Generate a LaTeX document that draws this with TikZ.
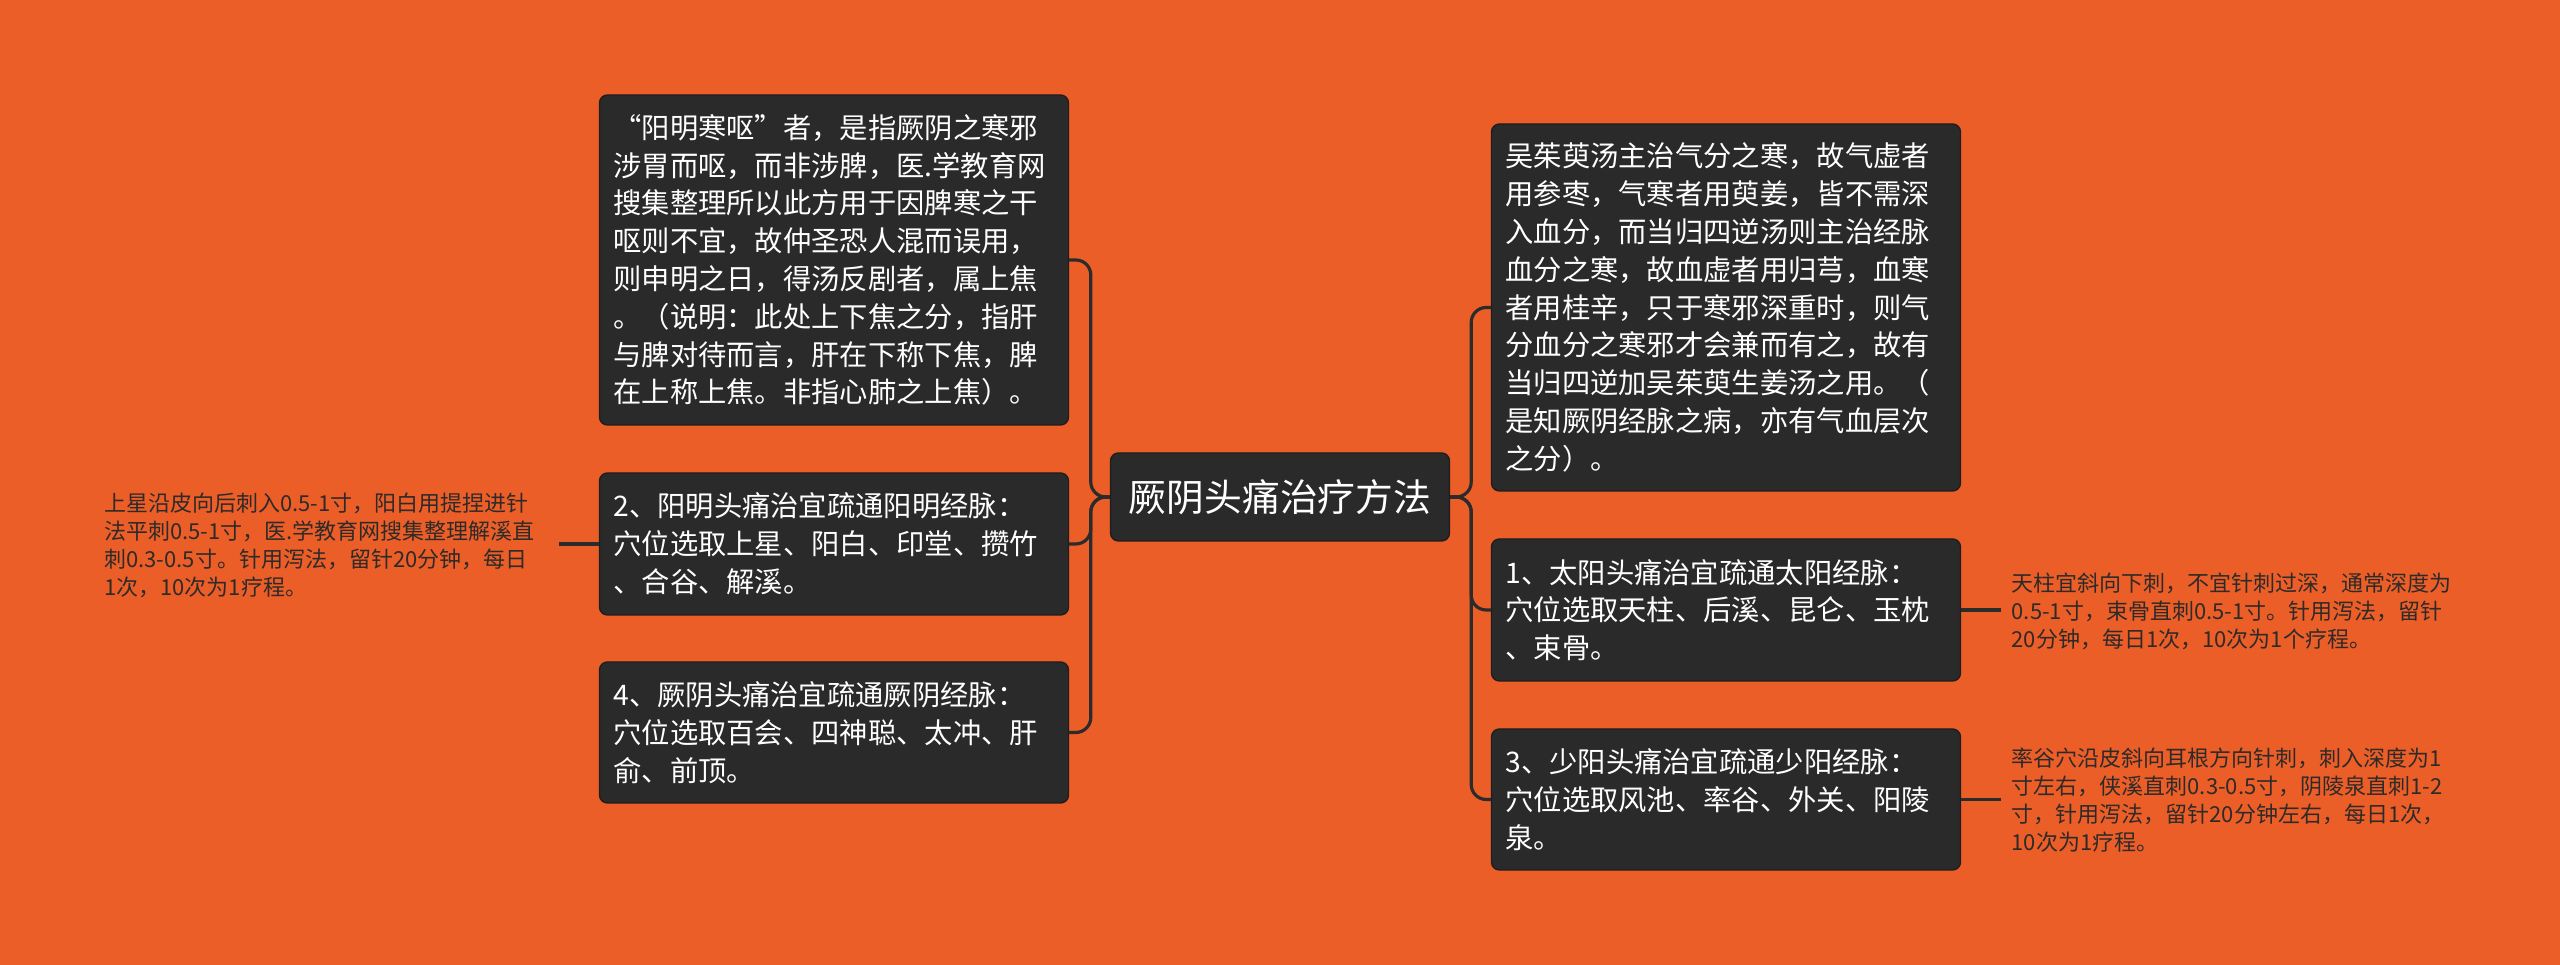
\documentclass[tikz,border=0pt]{standalone}
\usepackage{fontspec}
\usepackage{xcolor}
\usepackage{tikz}
\newfontfamily\cjk{Noto Sans CJK SC}
\definecolor{MMOrange}{HTML}{EB5E28}
\definecolor{MMDark}{HTML}{2A2A2A}
\definecolor{MMEdge}{HTML}{1E1E1E}
\definecolor{MMLine}{HTML}{2B2B2B}
\definecolor{MMLeaf}{HTML}{2E2A28}

\begin{document}
\begin{tikzpicture}[x=1cm,y=1cm,
  topicbox/.style={fill=MMDark,draw=MMEdge,line width=.4pt,rounded corners=0.08cm,text=white,
    font=\cjk\fontsize{8.05pt}{10.75pt}\selectfont,align=left,text width=4.41cm,
    inner xsep=0.14cm,inner ysep=0pt,minimum width=4.69cm},
  rootbox/.style={fill=MMDark,draw=MMEdge,line width=.4pt,rounded corners=0.08cm,text=white,
    font=\cjk\fontsize{10.75pt}{13pt}\selectfont,minimum width=3.39cm,minimum height=0.88cm,inner sep=0pt},
  leafnote/.style={text=MMLeaf,font=\cjk\fontsize{6.26pt}{7.97pt}\selectfont,align=left,
    inner xsep=0.1cm,inner ysep=0pt},
  link/.style={MMLine,line width=0.9pt,rounded corners=0.15cm}]
\path[use as bounding box] (0,0) rectangle (25.60,9.65);
\fill[MMOrange] (0,0) rectangle (25.60,9.65);
% centre topic
\node[rootbox] (root) at (12.80,4.68) {厥阴头痛治疗方法};
% left branch
\node[topicbox,minimum height=3.30cm] (ouNote) at (8.34,7.05) {“阳明寒呕”者，是指厥阴之寒邪\\涉胃而呕，而非涉脾，医.学教育网\\搜集整理所以此方用于因脾寒之干\\呕则不宜，故仲圣恐人混而误用，\\则申明之日，得汤反剧者，属上焦\\。（说明：此处上下焦之分，指肝\\与脾对待而言，肝在下称下焦，脾\\在上称上焦。非指心肺之上焦）。};
\node[topicbox,minimum height=1.42cm] (yangming) at (8.34,4.21) {2、阳明头痛治宜疏通阳明经脉：\\穴位选取上星、阳白、印堂、攒竹\\、合谷、解溪。};
\node[topicbox,minimum height=1.41cm] (jueyin) at (8.34,2.325) {4、厥阴头痛治宜疏通厥阴经脉：\\穴位选取百会、四神聪、太冲、肝\\俞、前顶。};
\node[leafnote,text width=4.44cm,anchor=east] (leafYangming) at (5.59,4.195) {上星沿皮向后刺入0.5-1寸，阳白用提捏进针\\法平刺0.5-1寸，医.学教育网搜集整理解溪直\\刺0.3-0.5寸。针用泻法，留针20分钟，每日\\1次，10次为1疗程。};
% right branch
\node[topicbox,minimum height=3.67cm] (wuzhuyu) at (17.26,6.575) {吴茱萸汤主治气分之寒，故气虚者\\用参枣，气寒者用萸姜，皆不需深\\入血分，而当归四逆汤则主治经脉\\血分之寒，故血虚者用归芎，血寒\\者用桂辛，只于寒邪深重时，则气\\分血分之寒邪才会兼而有之，故有\\当归四逆加吴茱萸生姜汤之用。（\\是知厥阴经脉之病，亦有气血层次\\之分）。};
\node[topicbox,minimum height=1.42cm] (taiyang) at (17.26,3.55) {1、太阳头痛治宜疏通太阳经脉：\\穴位选取天柱、后溪、昆仑、玉枕\\、束骨。};
\node[topicbox,minimum height=1.41cm] (shaoyang) at (17.26,1.655) {3、少阳头痛治宜疏通少阳经脉：\\穴位选取风池、率谷、外关、阳陵\\泉。};
\node[leafnote,text width=4.6cm,anchor=west] (leafTaiyang) at (20.01,3.54) {天柱宜斜向下刺，不宜针刺过深，通常深度为\\0.5-1寸，束骨直刺0.5-1寸。针用泻法，留针\\20分钟，每日1次，10次为1个疗程。};
\node[leafnote,text width=4.6cm,anchor=west] (leafShaoyang) at (20.01,1.65) {率谷穴沿皮斜向耳根方向针刺，刺入深度为1\\寸左右，侠溪直刺0.3-0.5寸，阴陵泉直刺1-2\\寸，针用泻法，留针20分钟左右，每日1次，\\10次为1疗程。};
% connectors
\draw[link] (root.west) -- ++(-0.19,0) |- (ouNote.east);
\draw[link] (root.west) -- ++(-0.19,0) |- (yangming.east);
\draw[link] (root.west) -- ++(-0.19,0) |- (jueyin.east);
\draw[link] (root.east) -- ++(0.21,0) |- (wuzhuyu.west);
\draw[link] (root.east) -- ++(0.21,0) |- (taiyang.west);
\draw[link] (root.east) -- ++(0.21,0) |- (shaoyang.west);
\draw[link] (yangming.west) -- (yangming.west -| leafYangming.east);
\draw[link] (taiyang.east) -- (taiyang.east -| leafTaiyang.west);
\draw[link] (shaoyang.east) -- (shaoyang.east -| leafShaoyang.west);
\end{tikzpicture}
\end{document}
